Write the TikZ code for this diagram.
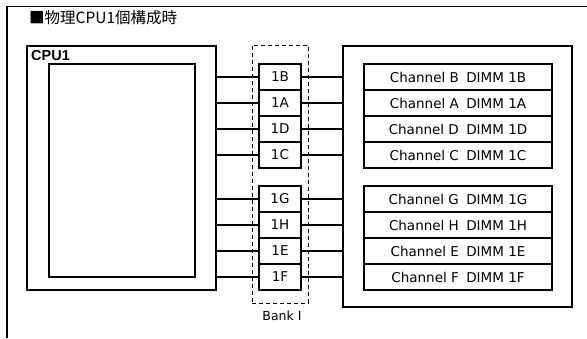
\documentclass[tikz,border=0pt]{standalone}
\usepackage{fontspec}
\setmainfont{DejaVu Sans}
\newfontfamily\cjk{Noto Sans CJK JP}
\newfontfamily\arialb{Liberation Sans}
\begin{document}
\begin{tikzpicture}[x=1pt,y=-1pt,
  box/.style={draw,line width=1.5pt,inner sep=0pt,outer sep=0pt},
  bankbox/.style={box,minimum width=42pt,minimum height=26pt,font=\fontsize{13.5}{14}\selectfont},
  chanbox/.style={box,minimum width=188pt,minimum height=26pt,font=\fontsize{13.5}{14}\selectfont},
  wire/.style={line width=1.5pt},
  dashbox/.style={draw,line width=0.9pt,dash pattern=on 4pt off 3pt}]
\useasboundingbox (0,0) rectangle (587,338);
% outer frame (cropped)
\draw[line width=1.5pt] (7,338) -- (7,6.5) -- (587,6.5);
\node[anchor=west,inner sep=0pt,font=\cjk\fontsize{15.5}{16}\selectfont] (title) at (29,18) {■物理CPU1個構成時};
% CPU
\node[box,minimum width=189pt,minimum height=244pt,anchor=north west] (cpu) at (27,46) {};
\node[box,minimum width=146pt,minimum height=213pt,anchor=north west] (core) at (49,64) {};
\node[anchor=west,inner sep=0pt,font=\arialb\bfseries\fontsize{14.5}{15}\selectfont] (cpulabel) at (31,55.5) {CPU1};
% bank
\node[dashbox,minimum width=56pt,minimum height=258pt,anchor=north west,inner sep=0pt] (bank) at (252,45) {};
\node[anchor=north,font=\fontsize{12.5}{13}\selectfont,inner sep=0pt] (banklabel) at (282,311) {Bank Ⅰ};
% DIMM area
\node[box,minimum width=229pt,minimum height=261pt,anchor=north west] (dimm) at (343,46) {};
% rows
\foreach \n/\l/\y in {b1/1B/77,b2/1A/103,b3/1D/129,b4/1C/155,b5/1G/199,b6/1H/225,b7/1E/251,b8/1F/277}{
  \node[bankbox] (\n) at (280,\y) {\l};
}
\foreach \n/\ch/\l/\y in {c1/B/1B/77,c2/A/1A/103,c3/D/1D/129,c4/C/1C/155,c5/G/1G/199,c6/H/1H/225,c7/E/1E/251,c8/F/1F/277}{
  \node[chanbox] (\n) at (458,\y) {Channel \ch\hspace{0.55em}DIMM \l};
}
\foreach \n in {b1,b2,b3,b4,b5,b6,b7,b8}{
  \draw[wire] (\n.west -| cpu.east) -- (\n.west);
  \draw[wire] (\n.east) -- (\n.east -| dimm.west);
}
\end{tikzpicture}
\end{document}
